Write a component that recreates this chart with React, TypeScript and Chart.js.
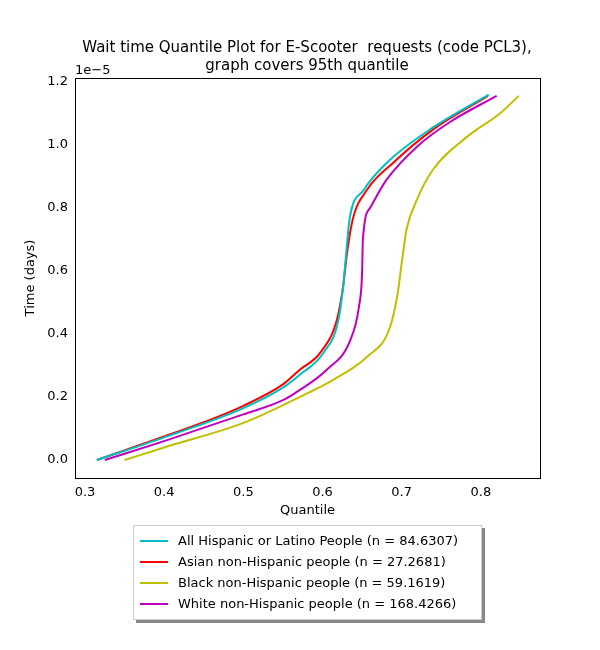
import { useEffect, useRef } from 'react';
import Chart from 'chart.js/auto';

const labels = [
  'All Hispanic or Latino People (n = 84.6307)',
  'Asian non-Hispanic people (n = 27.2681)',
  'Black non-Hispanic people (n = 59.1619)',
  'White non-Hispanic people (n = 168.4266)',
];
const colors = ['#00bfbf', '#ff0000', '#bfbf00', '#bf00bf'];

const hispanicX = [0.315, 0.4, 0.5, 0.55, 0.571, 0.601, 0.62, 0.626, 0.63, 0.634, 0.652, 0.681, 0.739, 0.81];
const hispanicY = [0, 0.072, 0.165, 0.23, 0.27, 0.34, 0.444, 0.55, 0.657, 0.762, 0.857, 0.943, 1.055, 1.16];
const asianX = [0.315, 0.4, 0.45, 0.5, 0.55, 0.571, 0.597, 0.618, 0.626, 0.631, 0.638, 0.656, 0.689, 0.739, 0.809];
const asianY = [0, 0.075, 0.12, 0.172, 0.24, 0.286, 0.34, 0.444, 0.55, 0.657, 0.762, 0.857, 0.943, 1.048, 1.156];
const blackX = [0.35, 0.4, 0.5, 0.571, 0.613, 0.656, 0.685, 0.695, 0.7, 0.706, 0.719, 0.739, 0.782, 0.824, 0.848];
const blackY = [0, 0.04, 0.118, 0.2, 0.254, 0.327, 0.42, 0.53, 0.625, 0.73, 0.825, 0.92, 1.025, 1.1, 1.156];
const whiteX = [0.325, 0.4, 0.5, 0.55, 0.571, 0.605, 0.635, 0.646, 0.65, 0.651, 0.66, 0.681, 0.719, 0.761, 0.82];
const whiteY = [0, 0.06, 0.145, 0.19, 0.222, 0.286, 0.38, 0.486, 0.594, 0.7, 0.8, 0.89, 0.994, 1.073, 1.156];

const series = [
  [hispanicX, hispanicY],
  [asianX, asianY],
  [blackX, blackY],
  [whiteX, whiteY],
];

const FONT = 'DejaVu Sans';

export default function App() {
  const canvasRef = useRef<HTMLCanvasElement>(null);
  const chartRef = useRef<Chart | null>(null);

  useEffect(() => {
    if (!canvasRef.current) return;
    if (chartRef.current) chartRef.current.destroy();

    const overlay = {
      id: 'overlay',
      afterDraw(chart: any) {
        const c = chart.ctx;
        const a = chart.chartArea;
        c.save();
        c.strokeStyle = '#000';
        c.lineWidth = 1;
        c.strokeRect(a.left + 0.5, a.top + 0.5, a.right - a.left, a.bottom - a.top);
        c.fillStyle = '#000';
        c.textAlign = 'center';
        c.font = `15px ${FONT}`;
        c.fillText('Wait time Quantile Plot for E-Scooter  requests (code PCL3),', 307, 52);
        c.fillText('graph covers 95th quantile', 307, 70);
        c.textAlign = 'left';
        c.font = `13px ${FONT}`;
        c.fillText('1e\u22125', 75, 74);
        c.restore();
      },
    };

    chartRef.current = new Chart(canvasRef.current, {
      type: 'line',
      data: {
        datasets: series.map(([xs, ys], i) => ({
          label: labels[i],
          data: xs.map((x, j) => ({ x, y: ys[j] })),
          borderColor: colors[i],
          borderWidth: 2,
          pointRadius: 0,
          cubicInterpolationMode: 'monotone' as const,
          fill: false,
        })),
      },
      options: {
        animation: false,
        responsive: false,
        layout: { padding: { left: 23, right: 60, top: 78, bottom: 132 } },
        plugins: { legend: { display: false }, tooltip: { enabled: false } },
        scales: {
          x: {
            type: 'linear',
            min: 0.2874,
            max: 0.8747,
            afterBuildTicks: (s: any) => {
              s.ticks = [0.3, 0.4, 0.5, 0.6, 0.7, 0.8].map((v) => ({ value: v }));
            },
            afterFit: (s: any) => { s.height = 40; },
            grid: { display: false, drawTicks: true, tickLength: 4, tickColor: '#000' } as any,
            border: { color: '#000' },
            ticks: { color: '#000', font: { family: FONT, size: 13 }, callback: (v: any) => Number(v).toFixed(1), maxRotation: 0 },
            title: { display: true, text: 'Quantile', color: '#000', font: { family: FONT, size: 13 }, padding: 0 },
          },
          y: {
            type: 'linear',
            min: -0.057,
            max: 1.2127,
            afterBuildTicks: (s: any) => {
              s.ticks = [0, 0.2, 0.4, 0.6, 0.8, 1.0, 1.2].map((v) => ({ value: v }));
            },
            afterFit: (s: any) => { s.width = 52; },
            grid: { display: false, drawTicks: true, tickLength: 4, tickColor: '#000' } as any,
            border: { color: '#000' },
            ticks: { color: '#000', font: { family: FONT, size: 13 }, callback: (v: any) => Number(v).toFixed(1) },
            title: { display: true, text: 'Time (days)', color: '#000', font: { family: FONT, size: 13 }, padding: 0 },
          },
        },
      },
      plugins: [overlay],
    });

    return () => {
      if (chartRef.current) chartRef.current.destroy();
    };
  }, []);

  return (
    <div style={{ position: 'absolute', left: 0, top: 0, width: 600, height: 650, background: '#fff' }}>
      <canvas ref={canvasRef} width={600} height={650}></canvas>
      <div
        style={{
          position: 'absolute', left: 133, top: 525, width: 347, padding: '4px 0 5px 0',
          border: '1px solid #ccc', background: '#fff', boxShadow: '3px 3px 0 #888',
          fontFamily: FONT, fontSize: 13, color: '#000',
        }}
      >
        {labels.map((l, i) => (
          <div key={l} style={{ display: 'flex', alignItems: 'center', height: 21, paddingLeft: 6 }}>
            <span style={{ display: 'inline-block', width: 28, height: 2, background: colors[i], marginRight: 10 }} />
            {l}
          </div>
        ))}
      </div>
    </div>
  );
}
